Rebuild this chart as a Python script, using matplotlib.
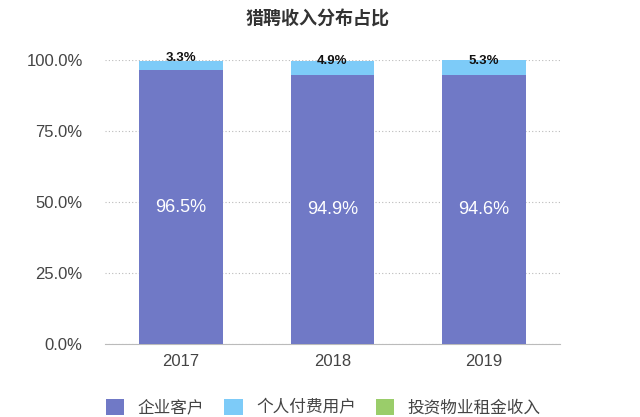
import numpy as np
import matplotlib
matplotlib.use('Agg')
import matplotlib.pyplot as plt
from matplotlib.ticker import FuncFormatter

plt.rcParams['font.family'] = ['Liberation Sans', 'Noto Sans CJK SC', 'DejaVu Sans']

years = ['2017', '2018', '2019']
series_names = ['企业客户', '个人付费用户', '投资物业租金收入']
enterprise = [96.5, 94.9, 94.6]
personal = [3.3, 4.9, 5.3]
rental = [0.0, 0.0, 0.0]  # too thin to see in the reference

purple = '#7079C6'
blue = '#7DCBF8'
green = '#9ACD6A'
cjk = ['Noto Sans CJK SC', 'DejaVu Sans']

fig = plt.figure(figsize=(6.4, 4.17), dpi=100)
ax = fig.add_axes([0.164, 0.175, 0.711, 0.681])

x = np.arange(len(years))
w = 0.55
b1 = ax.bar(x, enterprise, w, color=purple, label=series_names[0], zorder=3)
b2 = ax.bar(x, personal, w, bottom=enterprise, color=blue,
            label=series_names[1], zorder=3)
bottom3 = np.array(enterprise) + np.array(personal)
b3 = ax.bar(x, rental, w, bottom=bottom3, color=green,
            label=series_names[2], zorder=3)

# value labels
for i in range(len(years)):
    ax.text(x[i], enterprise[i] / 2, '%.1f%%' % enterprise[i], color='white',
            ha='center', va='center', fontsize=13, zorder=4)
    ax.annotate('%.1f%%' % personal[i],
                (x[i], enterprise[i] + personal[i] / 2),
                xytext=(0, 5), textcoords='offset points',
                ha='center', va='center', fontsize=9.5, fontweight='bold',
                color='#111111', zorder=4)

ax.set_xlim(-0.5, 2.5)
ax.set_ylim(0, 100)
ax.set_xticks(x)
ax.set_xticklabels(years)
ax.set_yticks([0, 25, 50, 75, 100])
ax.yaxis.set_major_formatter(FuncFormatter(lambda v, p: '%.1f%%' % v))
ax.tick_params(axis='both', length=0, labelsize=12, colors='#444444')
ax.tick_params(axis='x', pad=7)
ax.tick_params(axis='y', pad=16)

ax.grid(axis='y', linestyle=(0, (1, 2)), color='#BBBBBB', linewidth=0.8, zorder=0)
for s in ['top', 'right', 'left']:
    ax.spines[s].set_visible(False)
ax.spines['bottom'].set_color('#BBBBBB')

fig.text(0.497, 0.955, '猎聘收入分布占比', ha='center', va='center',
         fontsize=13, fontweight='bold', color='#333333', family=cjk)

leg = fig.legend(handles=[b1, b2, b3], loc='center', bbox_to_anchor=(0.505, 0.022),
                 ncol=3, frameon=False, handlelength=1.1,
                 handleheight=1.1, handletextpad=0.8, columnspacing=1.2,
                 prop={'family': cjk, 'size': 12})
for t in leg.get_texts():
    t.set_color('#444444')

fig.savefig('out.png', dpi=100)
